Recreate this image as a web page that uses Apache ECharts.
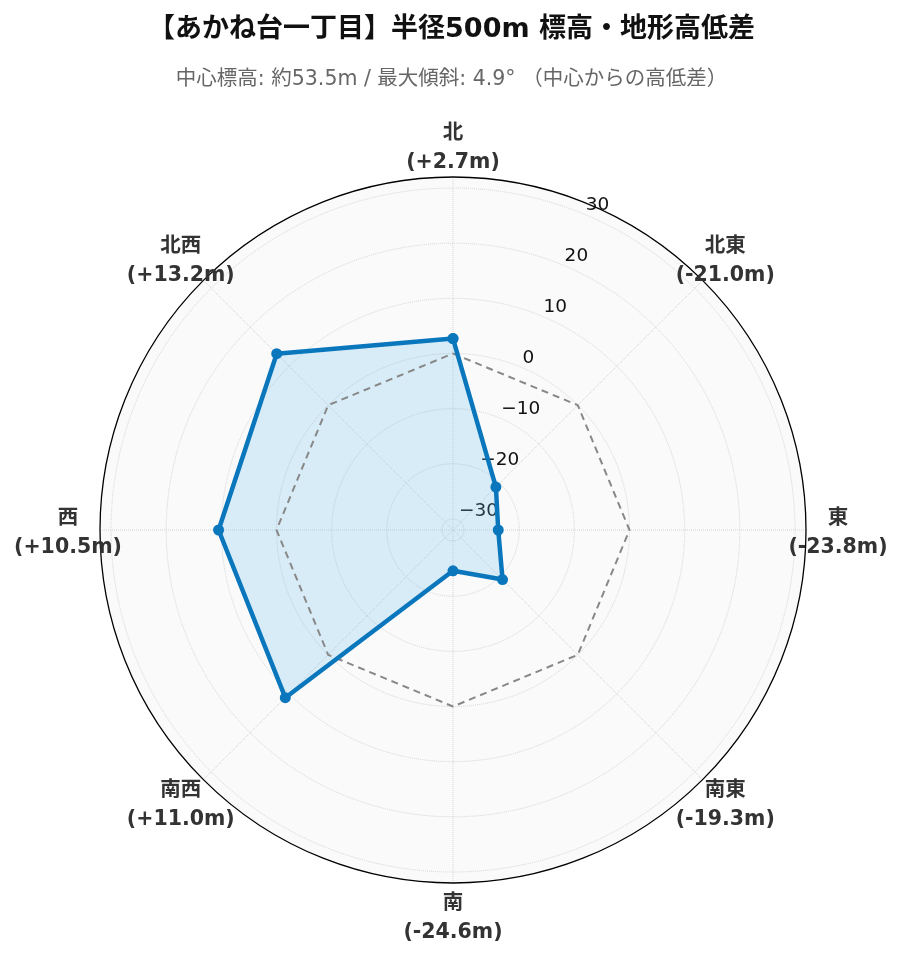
<!DOCTYPE html>
<html><head><meta charset="utf-8">
<script src="https://cdn.jsdelivr.net/npm/echarts@6/dist/echarts.min.js"></script>
<style>html,body{margin:0;padding:0;background:#fff}#c{width:903px;height:962px}</style>
</head><body><div id="c"></div>
<script>
const directions = ['北', '北東', '東', '南東', '南', '南西', '西', '北西'];
const directionAngles = [0, 45, 90, 135, 180, 225, 270, 315];
const diffs = [2.7, -21.0, -23.8, -19.3, -24.6, 11.0, 10.5, 13.2];
const zeroRef = [0, 0, 0, 0, 0, 0, 0, 0];
const radialTicks = [-30, -20, -10, 0, 10, 20, 30];
const titleText = '【あかね台一丁目】半径500m 標高・地形高低差';
const subtitleText = '中心標高: 約53.5m / 最大傾斜: 4.9° （中心からの高低差）';

const FONT = 'DejaVu Sans, "Noto Sans CJK JP", sans-serif';
const closed = arr => arr.map((v, i) => [v, directionAngles[i]]).concat([[arr[0], 360]]);
const fmtDiff = v => (v >= 0 ? '+' : '-') + Math.abs(v).toFixed(1) + 'm';
const RMIN = -32, RMAX = 32, STEP = 2;
const GRID = '#d4d4d4';
const CENTER = [453, 530], R = 353, R_LABEL = 385;

const hiddenAngle = (idx, start) => ({
  polarIndex: idx, type: 'value', min: 0, max: 360, interval: 45, startAngle: start,
  axisLine: { show: false }, axisTick: { show: false }, axisLabel: { show: false }, splitLine: { show: false }
});

const chart = echarts.init(document.getElementById('c'));
chart.setOption({
  backgroundColor: '#fff',
  animation: false,
  title: [
    { text: titleText, left: 'center', top: 11, textStyle: { fontFamily: FONT, fontSize: 27, fontWeight: 'bold', color: '#111' } },
    { text: subtitleText, left: 'center', top: 64, textStyle: { fontFamily: FONT, fontSize: 20.5, fontWeight: 'normal', color: '#666' } }
  ],
  polar: [
    { center: CENTER, radius: R },
    { center: CENTER, radius: R },
    { center: CENTER, radius: R_LABEL },
    { center: CENTER, radius: R }
  ],
  angleAxis: [
    {
      polarIndex: 0, type: 'value', min: 0, max: 360, interval: 45, startAngle: 90, clockwise: true,
      axisLine: { show: true, lineStyle: { color: '#000', width: 1.3 } },
      axisTick: { show: false }, axisLabel: { show: false },
      splitLine: { show: true, lineStyle: { color: GRID, type: 'dotted', width: 1 } }
    },
    hiddenAngle(1, 67.5),
    {
      polarIndex: 2, type: 'category', data: directions, startAngle: 90, clockwise: true, boundaryGap: false,
      axisLine: { show: false }, axisTick: { show: false }, axisLabel: { show: false }, splitLine: { show: false }
    },
    hiddenAngle(3, 90)
  ],
  radiusAxis: [
    {
      polarIndex: 0, type: 'value', min: RMIN, max: RMAX, interval: STEP,
      axisLine: { show: false }, axisTick: { show: false }, axisLabel: { show: false },
      splitLine: { show: true, lineStyle: { color: ['transparent', GRID, 'transparent', 'transparent', 'transparent'], type: 'dotted', width: 1 } }
    },
    {
      polarIndex: 1, type: 'value', min: RMIN, max: RMAX, interval: STEP,
      axisLine: { show: false }, axisTick: { show: false }, splitLine: { show: false },
      axisLabel: {
        show: true, margin: -2, align: 'left', verticalAlign: 'bottom',
        fontFamily: FONT, fontSize: 18.5, color: '#111',
        formatter: v => radialTicks.indexOf(Math.round(v)) < 0 || Math.abs(v - Math.round(v)) > 1e-6 ? '' : (v < 0 ? '\u2212' + Math.abs(v) : String(v))
      }
    },
    {
      polarIndex: 2, type: 'value', min: 0, max: 1, interval: 1,
      axisLine: { show: false }, axisTick: { show: false }, axisLabel: { show: false }, splitLine: { show: false }
    },
    {
      polarIndex: 3, type: 'value', min: 0, max: 1, interval: 1, z: -1,
      axisLine: { show: false }, axisTick: { show: false }, axisLabel: { show: false }, splitLine: { show: false },
      splitArea: { show: true, areaStyle: { color: ['#fafafa'] } }
    }
  ],
  series: [
    {
      type: 'line', coordinateSystem: 'polar', polarIndex: 0, data: closed(diffs), clip: false,
      symbol: 'none', lineStyle: { width: 0 }, areaStyle: { color: 'rgba(90,185,235,0.3)', origin: 'start' }, z: 2
    },
    {
      type: 'line', coordinateSystem: 'polar', polarIndex: 0, data: closed(zeroRef), clip: false,
      symbol: 'none', lineStyle: { color: '#888', width: 2, type: [7, 5] }, z: 3
    },
    {
      type: 'line', coordinateSystem: 'polar', polarIndex: 0, data: closed(diffs), clip: false,
      symbol: 'circle', symbolSize: 11, itemStyle: { color: '#0a77bd' },
      lineStyle: { color: '#0a77bd', width: 4.5 }, z: 4
    },
    {
      type: 'scatter', coordinateSystem: 'polar', polarIndex: 2, clip: false, silent: true,
      data: directions.map(d => [1, d]), symbolSize: 1, itemStyle: { color: 'rgba(0,0,0,0)' }, z: 5,
      label: {
        show: true, position: 'inside', align: 'center', verticalAlign: 'middle', offset: [0, 3],
        fontFamily: FONT, fontSize: 20.5, fontWeight: 'bold', color: '#333', opacity: 1, lineHeight: 29,
        formatter: p => directions[p.dataIndex] + '\n(' + fmtDiff(diffs[p.dataIndex]) + ')'
      }
    }
  ]
});
</script></body></html>
